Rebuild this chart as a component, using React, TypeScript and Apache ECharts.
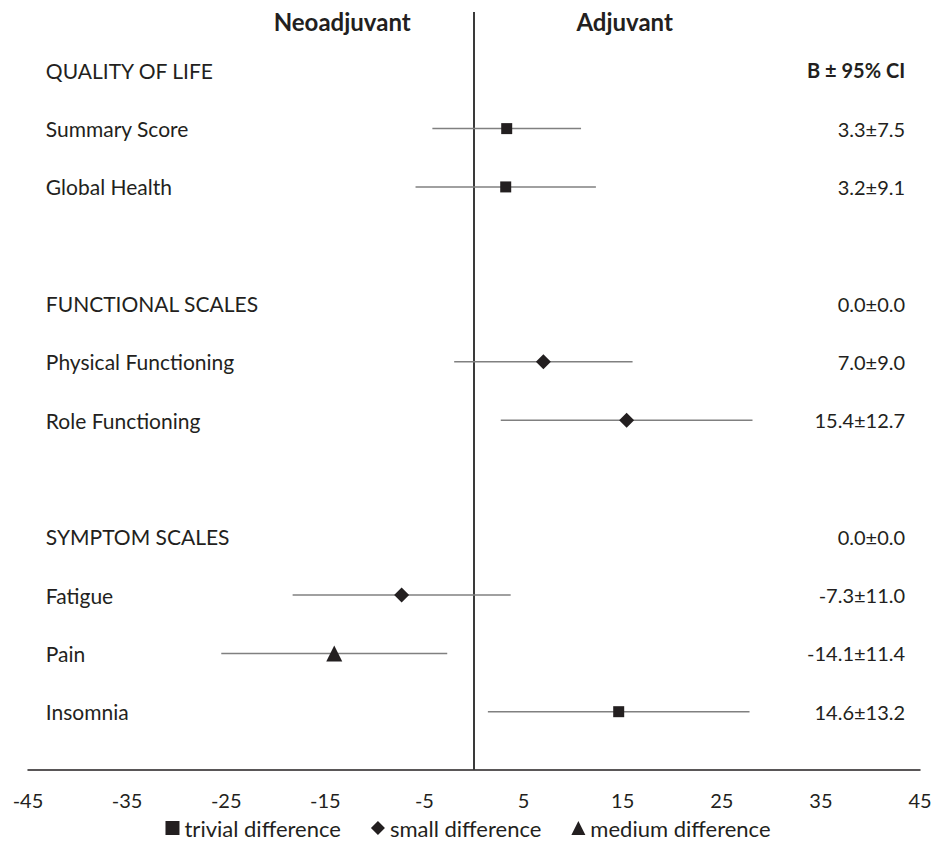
import React, { useEffect, useRef } from "react";
import * as echarts from "echarts";

const rowLabels = [
  "QUALITY OF LIFE",
  "Summary Score",
  "Global Health",
  "",
  "FUNCTIONAL SCALES",
  "Physical Functioning",
  "Role Functioning",
  "",
  "SYMPTOM SCALES",
  "Fatigue",
  "Pain",
  "Insomnia",
];
const estimates: (number | null)[] = [null, 3.3, 3.2, null, 0.0, 7.0, 15.4, null, 0.0, -7.3, -14.1, 14.6];
const ciHalf: (number | null)[] = [null, 7.5, 9.1, null, 0.0, 9.0, 12.7, null, 0.0, 11.0, 11.4, 13.2];
const effect: (string | null)[] = [null, "trivial", "trivial", null, null, "small", "small", null, null, "small", "medium", "trivial"];
const xTicks = [-45, -35, -25, -15, -5, 5, 15, 25, 35, 45];
const headers = ["Neoadjuvant", "Adjuvant"];
const ciHeader = "B ± 95% CI";

const FONT = "Lato";
const TEXT = "#231f20";
const MARK = "#231f20";

export default function App() {
  const ref = useRef<HTMLDivElement>(null);
  useEffect(() => {
    document.body.style.margin = "0";
    const chart = echarts.init(ref.current!, undefined, { renderer: "svg" });
    const n = rowLabels.length;
    const yOf = (i: number) => n - i; // 12 .. 1

    const errData: number[][] = [];
    const groups: Record<string, number[][]> = { trivial: [], small: [], medium: [] };
    estimates.forEach((e, i) => {
      const c = ciHalf[i];
      if (e === null || c === null) return;
      if (effect[i]) {
        errData.push([e - c, e + c, yOf(i)]);
        groups[effect[i] as string].push([e, yOf(i)]);
      }
    });

    const leftLabels = rowLabels
      .map((name, i) => ({ name, value: [-43.2, yOf(i)] }))
      .filter((d) => d.name);
    const rightLabels: any[] = [{ name: ciHeader, value: [43.5, yOf(0)], label: { fontWeight: "bold" } }];
    estimates.forEach((e, i) => {
      const c = ciHalf[i];
      if (e === null || c === null) return;
      rightLabels.push({ name: `${e.toFixed(1)}±${c.toFixed(1)}`, value: [43.5, yOf(i)] });
    });

    const textSeries = (data: any[], position: any, extra: any = {}) => ({
      type: "scatter",
      silent: true,
      symbolSize: 0,
      data,
      itemStyle: { opacity: 1 },
      label: {
        show: true,
        position,
        distance: 0,
        opacity: 1,
        formatter: (p: any) => p.name,
        fontFamily: FONT,
        fontSize: 20,
        color: TEXT,
        ...extra,
      },
      z: 5,
    });

    chart.setOption({
      animation: false,
      textStyle: { fontFamily: FONT },
      grid: { left: 28, right: 16, top: 12, bottom: 74 },
      xAxis: {
        type: "value",
        min: -45,
        max: 45,
        interval: 10,
        splitLine: { show: false },
        axisTick: { show: false },
        axisLine: { show: true, lineStyle: { color: "#231f20", width: 1.5 } },
        axisLabel: {
          fontFamily: FONT,
          fontSize: 20,
          color: TEXT,
          margin: 20,
          formatter: (v: number) => (xTicks.includes(v) ? String(v) : ""),
        },
      },
      yAxis: { type: "value", min: 0, max: 13, show: false },
      legend: {
        bottom: 0,
        left: "center",
        itemGap: 30,
        itemWidth: 14,
        itemHeight: 14,
        textStyle: { fontFamily: FONT, fontSize: 22, color: TEXT },
        data: [
          { name: "trivial difference", icon: "rect", itemStyle: { color: MARK, opacity: 1 } },
          { name: "small difference", icon: "diamond", itemStyle: { color: MARK, opacity: 1 } },
          { name: "medium difference", icon: "triangle", itemStyle: { color: MARK, opacity: 1 } },
        ],
      },
      series: [
        {
          type: "line",
          silent: true,
          symbol: "none",
          data: [
            [0, 0],
            [0, 13],
          ],
          lineStyle: { color: "#3a3a3a", width: 2 },
          z: 1,
        },
        {
          type: "custom",
          silent: true,
          data: errData,
          renderItem: (params: any, api: any) => {
            const a = api.coord([api.value(0), api.value(2)]);
            const b = api.coord([api.value(1), api.value(2)]);
            return {
              type: "line",
              shape: { x1: a[0], y1: a[1], x2: b[0], y2: b[1] },
              style: { stroke: "#808080", lineWidth: 1.5 },
            };
          },
          z: 2,
        },
        {
          name: "trivial difference",
          type: "scatter",
          symbol: "rect",
          symbolSize: 11,
          data: groups.trivial,
          itemStyle: { color: MARK, opacity: 1 },
          z: 3,
        },
        {
          name: "small difference",
          type: "scatter",
          symbol: "diamond",
          symbolSize: 15,
          data: groups.small,
          itemStyle: { color: MARK, opacity: 1 },
          z: 3,
        },
        {
          name: "medium difference",
          type: "scatter",
          symbol: "triangle",
          symbolSize: 16,
          data: groups.medium,
          itemStyle: { color: MARK, opacity: 1 },
          z: 3,
        },
        textSeries(leftLabels, "right", { fontSize: 21 }),
        textSeries(rightLabels, "left"),
        textSeries(
          [
            { name: headers[0], value: [-13.3, 12.83] },
            { name: headers[1], value: [15.2, 12.83] },
          ],
          "inside",
          { fontWeight: "bold", fontSize: 24 }
        ),
      ],
    });
    return () => chart.dispose();
  }, []);
  return <div ref={ref} style={{ width: 936, height: 844 }} />;
}
